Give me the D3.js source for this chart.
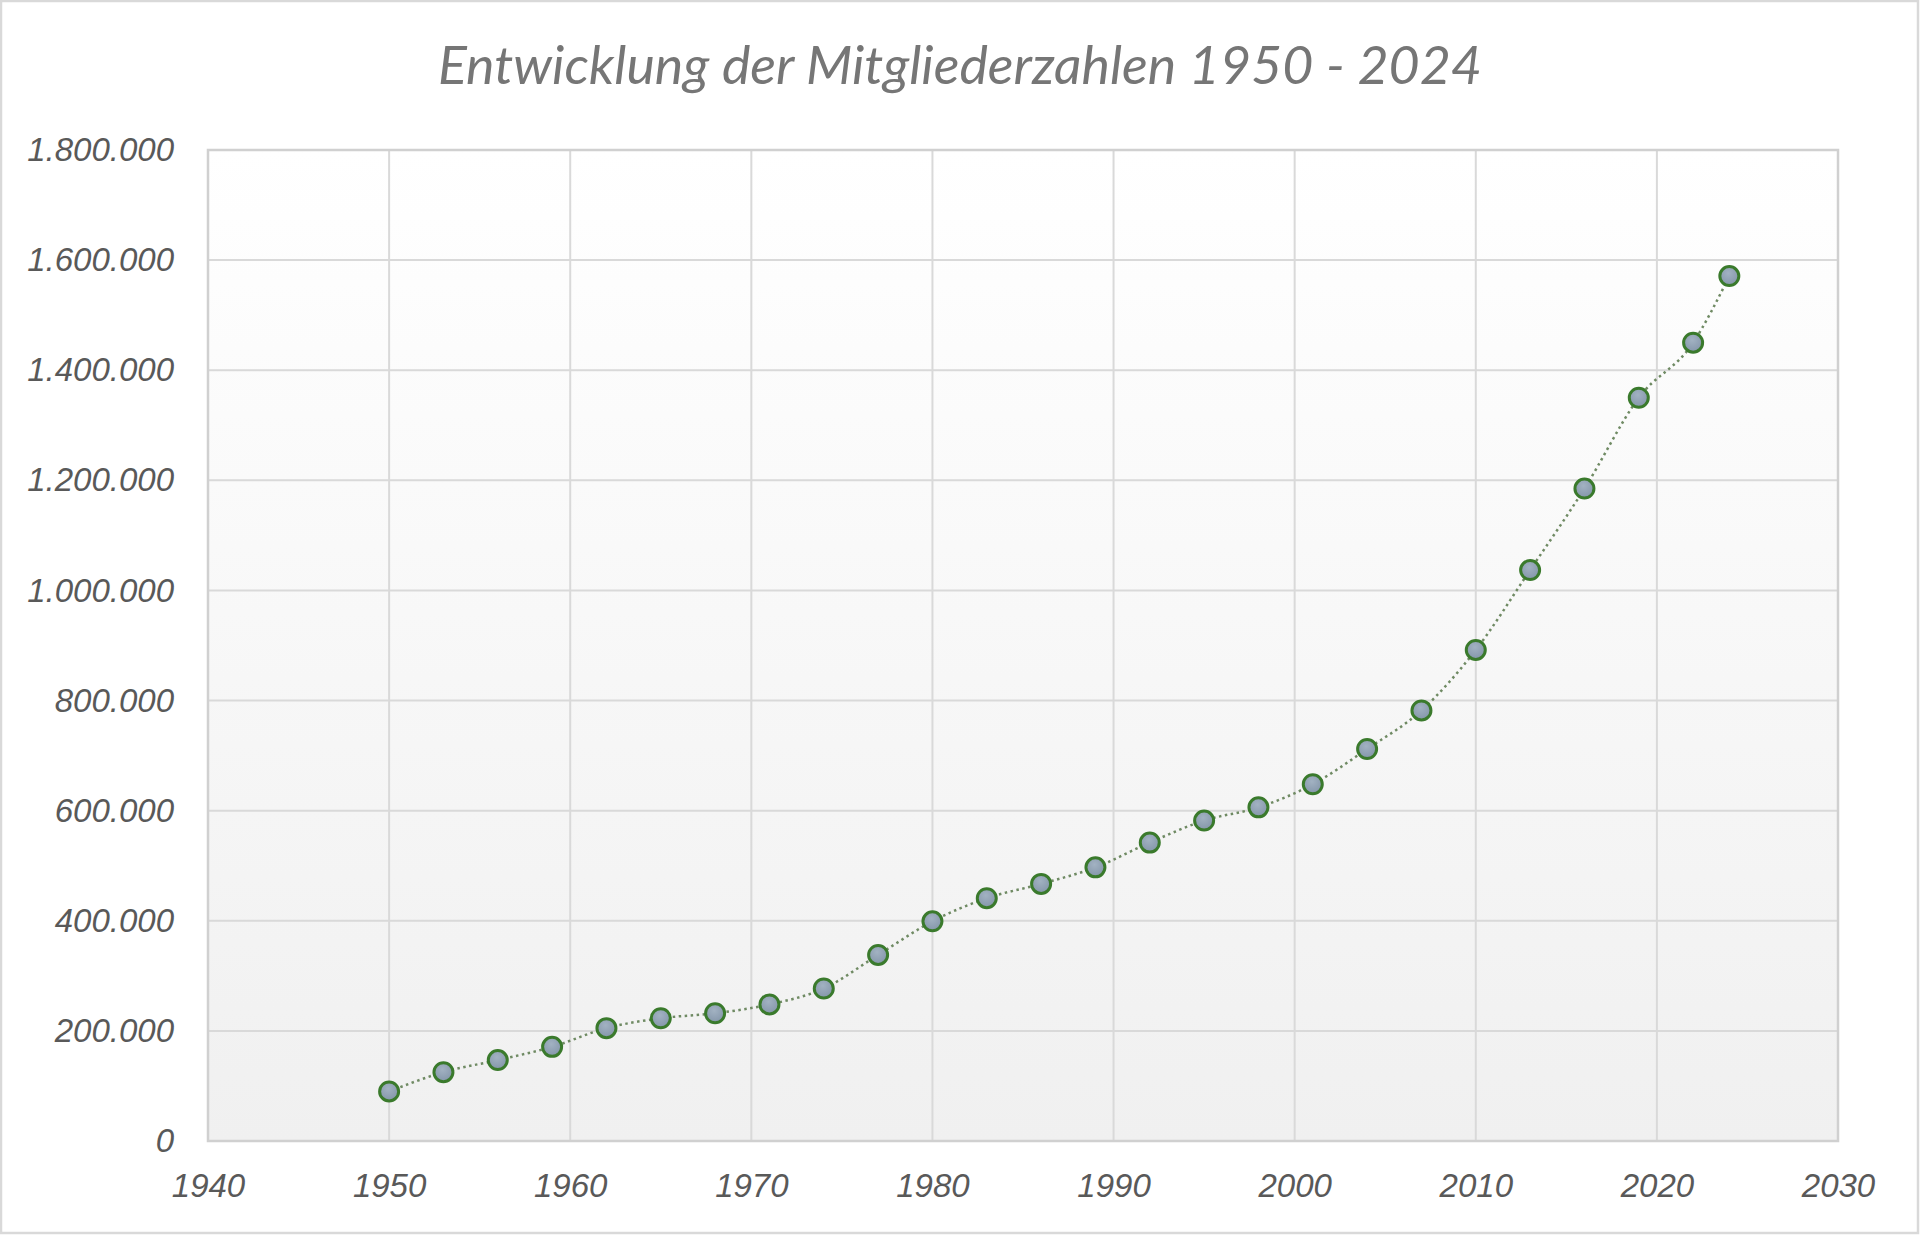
<!DOCTYPE html>
<html>
<head>
<meta charset="utf-8">
<script src="https://cdn.jsdelivr.net/npm/d3@7"></script>
<style>
  html, body { margin: 0; padding: 0; background: #fff; }
  svg { display: block; }
</style>
</head>
<body>
<div id="chart"></div>
<script>
// Daten
var jahre = [1950, 1953, 1956, 1959, 1962, 1965, 1968, 1971, 1974, 1977,
             1980, 1983, 1986, 1989, 1992, 1995, 1998, 2001, 2004, 2007,
             2010, 2013, 2016, 2019, 2022, 2024];
var mitglieder = [90000, 125000, 147000, 171000, 205000, 223000, 232000, 248000, 277000, 338000,
                  399000, 441000, 467000, 497000, 542000, 582000, 606000, 648000, 712000, 782000,
                  892000, 1037000, 1185000, 1350000, 1450000, 1571000];
var xTicks = [1940, 1950, 1960, 1970, 1980, 1990, 2000, 2010, 2020, 2030];
var yTicks = [0, 200000, 400000, 600000, 800000, 1000000, 1200000, 1400000, 1600000, 1800000];
var titel = "Entwicklung der Mitgliederzahlen 1950 - 2024";

var data = jahre.map(function (j, i) {
    return { jahr: j, wert: mitglieder[i] };
});

var svgWidth = 1920, svgHeight = 1235;
var margin = { top: 150, right: 82, bottom: 94, left: 208 };
var width = svgWidth - margin.left - margin.right;
var height = svgHeight - margin.top - margin.bottom;

var de = d3.formatLocale({ decimal: ",", thousands: ".", grouping: [3], currency: ["", " €"] });
var fmt = de.format(",.0f");

var svg = d3.select("#chart").append("svg")
    .attr("width", svgWidth)
    .attr("height", svgHeight);

// Rahmen
svg.append("rect")
    .attr("x", 1).attr("y", 1)
    .attr("width", svgWidth - 3).attr("height", svgHeight - 3)
    .attr("fill", "#fff")
    .attr("stroke", "#d9d9d9")
    .attr("stroke-width", 2.5);

var defs = svg.append("defs");
var bg = defs.append("linearGradient").attr("id", "bg")
    .attr("x1", 0).attr("y1", 0).attr("x2", 0).attr("y2", 1);
bg.append("stop").attr("offset", "0%").attr("stop-color", "#ffffff");
bg.append("stop").attr("offset", "100%").attr("stop-color", "#f0f0f0");

var mk = defs.append("radialGradient").attr("id", "mk")
    .attr("cx", "45%").attr("cy", "35%").attr("r", "70%");
mk.append("stop").attr("offset", "0%").attr("stop-color", "#a2b2c2");
mk.append("stop").attr("offset", "100%").attr("stop-color", "#8294a8");

// Titel
svg.append("text")
    .attr("x", svgWidth / 2)
    .attr("y", 84)
    .attr("text-anchor", "middle")
    .attr("font-family", "Lato, 'Open Sans', sans-serif")
    .attr("font-style", "italic")
    .attr("font-size", 52)
    .attr("fill", "#767676")
    .attr("textLength", 1044)
    .attr("lengthAdjust", "spacingAndGlyphs")
    .text(titel);

var g = svg.append("g")
    .attr("transform", "translate(" + margin.left + "," + margin.top + ")");

// Achsen
var x = d3.scaleLinear().domain([1940, 2030]).range([0, width]);
var y = d3.scaleLinear().domain([0, 1800000]).range([height, 0]);

g.append("rect")
    .attr("width", width).attr("height", height)
    .attr("fill", "url(#bg)");

// Gitternetz
g.append("g").selectAll("line")
    .data(yTicks)
    .enter().append("line")
    .attr("x1", 0).attr("x2", width)
    .attr("y1", d => y(d)).attr("y2", d => y(d))
    .attr("stroke", "#d9d9d9")
    .attr("stroke-width", 2);

g.append("g").selectAll("line")
    .data(xTicks)
    .enter().append("line")
    .attr("y1", 0).attr("y2", height)
    .attr("x1", d => x(d)).attr("x2", d => x(d))
    .attr("stroke", "#d9d9d9")
    .attr("stroke-width", 2);

g.append("rect")
    .attr("width", width).attr("height", height)
    .attr("fill", "none")
    .attr("stroke", "#d0d0d0")
    .attr("stroke-width", 2.5);

var yAxis = g.append("g")
    .call(d3.axisLeft(y).tickValues(yTicks).tickFormat(fmt).tickSize(0).tickPadding(34));
var xAxis = g.append("g")
    .attr("transform", "translate(0," + height + ")")
    .call(d3.axisBottom(x).tickValues(xTicks).tickFormat(d3.format("d")).tickSize(0).tickPadding(33));

[yAxis, xAxis].forEach(function (a) {
    a.select(".domain").remove();
    a.selectAll("text")
        .attr("font-family", "'Liberation Sans', Arial, sans-serif")
        .attr("font-style", "italic")
        .attr("font-size", 33)
        .attr("fill", "#595959");
});

// Linie
var line = d3.line()
    .x(d => x(d.jahr))
    .y(d => y(d.wert))
    .curve(d3.curveMonotoneX);

g.append("path")
    .datum(data)
    .attr("fill", "none")
    .attr("stroke", "#6f8a63")
    .attr("stroke-width", 2.5)
    .attr("stroke-dasharray", "2.5,3.5")
    .attr("d", line);

g.append("g").selectAll("circle")
    .data(data)
    .enter().append("circle")
    .attr("cx", d => x(d.jahr))
    .attr("cy", d => y(d.wert))
    .attr("r", 9.5)
    .attr("fill", "url(#mk)")
    .attr("stroke", "#3a7a2c")
    .attr("stroke-width", 3);
</script>
</body>
</html>
